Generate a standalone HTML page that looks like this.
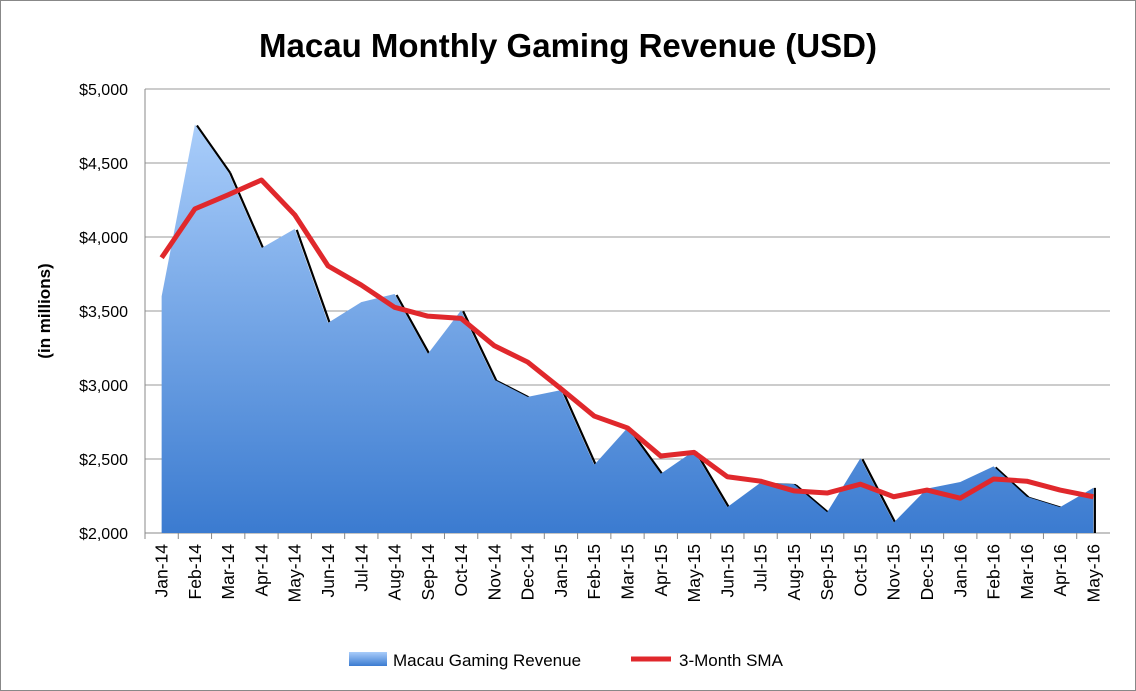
<!DOCTYPE html>
<html><head><meta charset="utf-8"><style>
body{margin:0;background:#fff;}
svg{display:block;font-family:"Liberation Sans",sans-serif;}
</style></head><body>
<svg id="chart" width="1136" height="691">
<defs>
<linearGradient id="ag" x1="0" y1="0" x2="0" y2="1">
<stop offset="0" stop-color="#a9cdfa"/><stop offset="1" stop-color="#3b7bd0"/>
</linearGradient>
<linearGradient id="lg" x1="0" y1="0" x2="0" y2="1">
<stop offset="0" stop-color="#a9cdfa"/><stop offset="1" stop-color="#3b7bd0"/>
</linearGradient>
</defs>
<rect x="0.5" y="0.5" width="1135" height="690" fill="#fff" stroke="#888"/>
<text x="568" y="57" text-anchor="middle" font-size="33" font-weight="bold">Macau Monthly Gaming Revenue (USD)</text>
<text transform="translate(50,311) rotate(-90)" text-anchor="middle" font-size="17" font-weight="bold">(in millions)</text>
<g id="grid"></g><g id="marks"></g><g id="labels"></g>
<g>
<rect x="349" y="652" width="38" height="14" fill="url(#lg)"/>
<text x="393" y="666" font-size="17">Macau Gaming Revenue</text>
<line x1="631" y1="659" x2="671" y2="659" stroke="#e0282c" stroke-width="5"/>
<text x="679" y="666" font-size="17">3-Month SMA</text>
</g>
</svg>
<script>
const categories=["Jan-14","Feb-14","Mar-14","Apr-14","May-14","Jun-14","Jul-14","Aug-14","Sep-14","Oct-14","Nov-14","Dec-14","Jan-15","Feb-15","Mar-15","Apr-15","May-15","Jun-15","Jul-15","Aug-15","Sep-15","Oct-15","Nov-15","Dec-15","Jan-16","Feb-16","Mar-16","Apr-16","May-16"];
const revenue=[3600,4760,4440,3925,4055,3420,3560,3615,3210,3505,3035,2920,2965,2460,2710,2400,2555,2175,2340,2330,2140,2505,2070,2300,2345,2450,2245,2175,2305];
const sma=[3860,4190,4285,4385,4150,3805,3675,3525,3465,3450,3265,3155,2975,2790,2710,2520,2545,2380,2350,2285,2270,2330,2245,2290,2235,2365,2350,2290,2245];
const yTicks=[2000,2500,3000,3500,4000,4500,5000];
const yTickLabels=["$2,000","$2,500","$3,000","$3,500","$4,000","$4,500","$5,000"];
const NS="http://www.w3.org/2000/svg";
const L=145,R=1110,T=89,B=533,yMin=2000,yMax=5000;
const step=(R-L)/categories.length;
function x(i){return L+step*(i+0.5);}
function y(v){return B-(v-yMin)/(yMax-yMin)*(B-T);}
function mk(t,a,p){const e=document.createElementNS(NS,t);for(const k in a)e.setAttribute(k,a[k]);p.appendChild(e);return e;}
const grid=document.getElementById('grid'),marks=document.getElementById('marks'),labels=document.getElementById('labels');
yTicks.forEach((v,i)=>{
 const g=mk('line',{x1:L,x2:R,y1:y(v),y2:y(v),stroke:i==0?'#888':'#999','stroke-width':1},grid);
 
 
 const t=mk('text',{x:128,y:y(v)+6,'text-anchor':'end','font-size':16},labels);
 t.textContent=yTickLabels[i];
 
 
});
const ax=mk('line',{x1:L,x2:L,y1:T,y2:B,stroke:'#888'},grid);


categories.forEach((c,i)=>{
 const tk=mk('line',{x1:L+step*i,x2:L+step*i,y1:B,y2:B+6,stroke:'#888'},grid);
 
 
 const t=mk('text',{transform:`translate(${x(i)+6},${B+11}) rotate(-90)`,'text-anchor':'end','font-size':17.5},labels);
 t.textContent=c;
 
 
});
let sh='';
for(let i=1;i<revenue.length;i++){if(revenue[i]<revenue[i-1])sh+='M'+(x(i-1)+2)+','+(y(revenue[i-1])+1)+'L'+(x(i)+2)+','+(y(revenue[i])+1);}
sh+='M'+(x(revenue.length-1)+1.5)+','+y(revenue[revenue.length-1])+'L'+(x(revenue.length-1)+1.5)+','+B;
const shadow=mk('path',{d:sh,fill:'none',stroke:'#000','stroke-width':2.2},marks);


let d='M'+x(0)+','+B;revenue.forEach((v,i)=>{d+='L'+x(i)+','+y(v);});d+='L'+x(revenue.length-1)+','+B+'Z';
const area=mk('path',{d:d,fill:'url(#ag)'},marks);


let ld='';sma.forEach((v,i)=>{ld+=(i?'L':'M')+x(i)+','+y(v);});
const line=mk('path',{d:ld,fill:'none',stroke:'#e0282c','stroke-width':5,'stroke-linejoin':'round'},marks);


</script>
</body></html>
